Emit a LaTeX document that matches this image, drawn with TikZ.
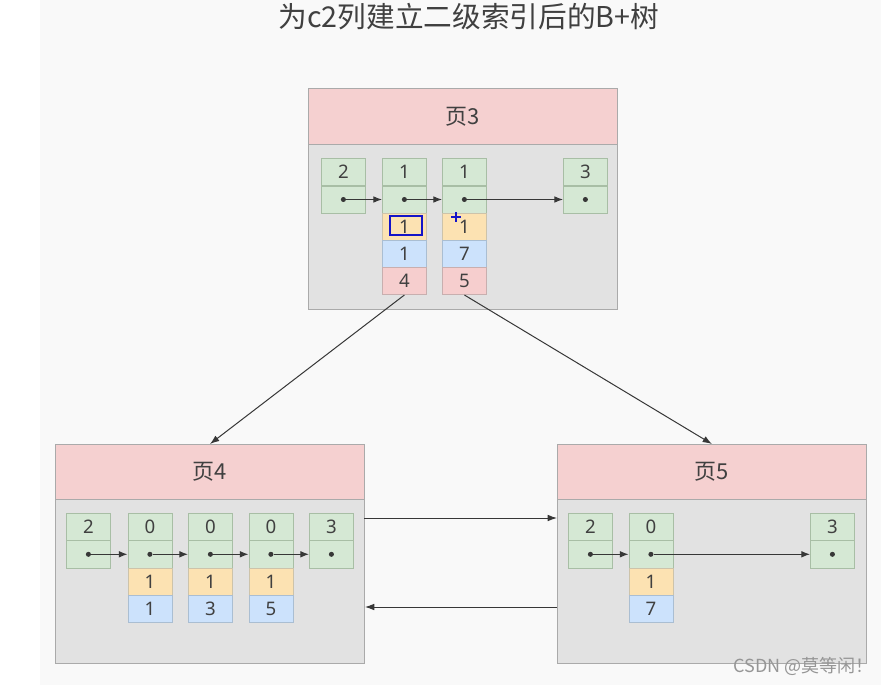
\documentclass[tikz,border=0pt]{standalone}
\usepackage{fontspec}
\setmainfont{Noto Sans}
\newfontfamily\cjk{Noto Sans CJK SC}
\usetikzlibrary{arrows.meta}
\definecolor{gfill}{RGB}{213,232,212}
\definecolor{gdraw}{RGB}{168,190,165}
\definecolor{yfill}{RGB}{252,226,178}
\definecolor{ydraw}{RGB}{205,195,170}
\definecolor{bfill}{RGB}{204,226,252}
\definecolor{bdraw}{RGB}{170,190,210}
\definecolor{pfill}{RGB}{246,206,206}
\definecolor{pdraw}{RGB}{200,175,175}
\definecolor{hfill}{RGB}{245,208,208}
\definecolor{bodyfill}{RGB}{226,226,226}
\definecolor{boxdraw}{RGB}{170,170,170}
\definecolor{txt}{RGB}{64,64,64}
\definecolor{bg}{RGB}{249,249,249}
\definecolor{arr}{RGB}{55,55,55}
\definecolor{curs}{RGB}{20,20,200}
\tikzset{
  cellbase/.style={rectangle, minimum width=33pt, minimum height=20.4pt, inner sep=0pt, anchor=north west, text=txt, font=\fontsize{14}{14}\selectfont, line width=0.6pt},
  cg/.style={cellbase, fill=gfill, draw=gdraw},
  cy/.style={cellbase, fill=yfill, draw=ydraw},
  cb/.style={cellbase, fill=bfill, draw=bdraw},
  cp/.style={cellbase, fill=pfill, draw=pdraw},
  dotn/.style={circle, fill=arr, inner sep=0pt, minimum size=3.8pt},
  ptr/.style={-{Latex[length=6.5pt,width=5pt]}, draw=arr, line width=0.75pt},
  link/.style={-{Latex[length=7pt,width=5pt]}, draw=arr, line width=0.75pt},
  pagebody/.style={rectangle, fill=bodyfill, draw=boxdraw, line width=0.7pt, inner sep=0pt, anchor=north west},
  pagehead/.style={rectangle, fill=hfill, draw=boxdraw, line width=0.7pt, inner sep=0pt, anchor=north west, text=txt, font=\cjk\fontsize{16.5}{16.5}\selectfont},
}
\begin{document}
\begin{tikzpicture}[x=0.75pt,y=-0.75pt]
\useasboundingbox (0,0) rectangle (881,685);
\fill[white] (0,0) rectangle (881,685);
\fill[bg] (40,0) rectangle (881,685);

% title
\node[text=txt, font=\cjk\fontsize{21.5}{21.5}\selectfont] (title) at (469,17) {为c2列建立二级索引后的B+树};

% ---------- page 3 ----------
\node[pagebody, minimum width=231.75pt, minimum height=165.75pt] (p3box) at (308,88) {};
\node[pagehead, minimum width=231.75pt, minimum height=42pt] (p3h) at (308,88) {页3};
\node[cg] (p3k1) at (321,158) {2};
\node[cg] (p3q1) at (321,185.5) {};
\node[cg] (p3k2) at (382,158) {1};
\node[cg] (p3q2) at (382,185.5) {};
\node[cy] (p3y2) at (382,213) {1};
\node[cb] (p3b2) at (382,240) {1};
\node[cp] (p3r2) at (382,267) {4};
\node[cg] (p3k3) at (442,158) {1};
\node[cg] (p3q3) at (442,185.5) {};
\node[cy] (p3y3) at (442,213) {1};
\node[cb] (p3b3) at (442,240) {7};
\node[cp] (p3r3) at (442,267) {5};
\node[cg] (p3k4) at (563,158) {3};
\node[cg] (p3q4) at (563,185.5) {};
\node[dotn] (p3d1) at (p3q1.center) {};
\node[dotn] (p3d2) at (p3q2.center) {};
\node[dotn] (p3d3) at (p3q3.center) {};
\node[dotn] (p3d4) at (p3q4.center) {};
\draw[ptr] (p3d1) -- (p3q2.west);
\draw[ptr] (p3d2) -- (p3q3.west);
\draw[ptr] (p3d3) -- (p3q4.west);
% cursor marks
\node[draw=curs, line width=1.6pt, minimum width=24pt, minimum height=14.5pt, inner sep=0pt, anchor=north west] (sel) at (389,214.5) {};
\draw[curs, line width=1.6pt] (451,217) coordinate (pl) -- ++(10,0);
\draw[curs, line width=1.6pt] (456,212) coordinate (pt) -- ++(0,10);

% ---------- page 4 ----------
\node[pagebody, minimum width=231.75pt, minimum height=164.25pt] (p4box) at (55,444) {};
\node[pagehead, minimum width=231.75pt, minimum height=41.25pt] (p4h) at (55,444) {页4};
\node[cg] (p4k1) at (66,513) {2};
\node[cg] (p4q1) at (66,540.3) {};
\node[cg] (p4k2) at (127.5,513) {0};
\node[cg] (p4q2) at (127.5,540.3) {};
\node[cy] (p4y2) at (127.5,567.6) {1};
\node[cb] (p4b2) at (127.5,594.9) {1};
\node[cg] (p4k3) at (188,513) {0};
\node[cg] (p4q3) at (188,540.3) {};
\node[cy] (p4y3) at (188,567.6) {1};
\node[cb] (p4b3) at (188,594.9) {3};
\node[cg] (p4k4) at (248.5,513) {0};
\node[cg] (p4q4) at (248.5,540.3) {};
\node[cy] (p4y4) at (248.5,567.6) {1};
\node[cb] (p4b4) at (248.5,594.9) {5};
\node[cg] (p4k5) at (309,513) {3};
\node[cg] (p4q5) at (309,540.3) {};
\foreach \i in {1,...,5} { \node[dotn] (p4d\i) at (p4q\i.center) {}; }
\draw[ptr] (p4d1) -- (p4q2.west);
\draw[ptr] (p4d2) -- (p4q3.west);
\draw[ptr] (p4d3) -- (p4q4.west);
\draw[ptr] (p4d4) -- (p4q5.west);

% ---------- page 5 ----------
\node[pagebody, minimum width=231.75pt, minimum height=164.25pt] (p5box) at (557,444) {};
\node[pagehead, minimum width=231.75pt, minimum height=41.25pt] (p5h) at (557,444) {页5};
\node[cg] (p5k1) at (568,513) {2};
\node[cg] (p5q1) at (568,540.3) {};
\node[cg] (p5k2) at (628.5,513) {0};
\node[cg] (p5q2) at (628.5,540.3) {};
\node[cy] (p5y2) at (628.5,567.6) {1};
\node[cb] (p5b2) at (628.5,594.9) {7};
\node[cg] (p5k3) at (810,513) {3};
\node[cg] (p5q3) at (810,540.3) {};
\foreach \i in {1,2,3} { \node[dotn] (p5d\i) at (p5q\i.center) {}; }
\draw[ptr] (p5d1) -- (p5q2.west);
\draw[ptr] (p5d2) -- (p5q3.west);

% ---------- links between pages ----------
\draw[link] (p3r2.south) -- (p4h.north);
\draw[link] (p3r3.south) -- (p5h.north);
\coordinate (c45) at (364,518);
\coordinate (c54) at (557,607);
\draw[link] (c45) -- (p5box.west |- c45);
\draw[link] (c54) -- (p4box.east |- c54);

% watermark
\node[text={rgb,255:red,150;green,150;blue,150}, font=\cjk\fontsize{13.5}{13.5}\selectfont, anchor=east, inner sep=0pt] (wm) at (874,666) {CSDN @莫等闲！};
\end{tikzpicture}
\end{document}
